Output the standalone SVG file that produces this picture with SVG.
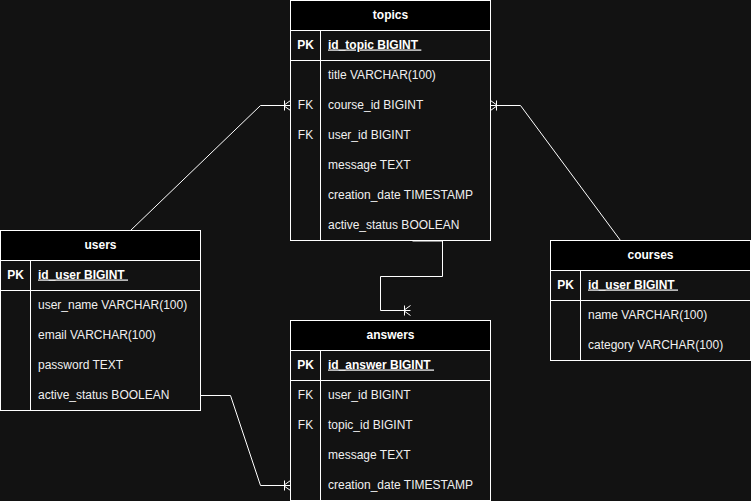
<svg xmlns="http://www.w3.org/2000/svg" width="751" height="501" viewBox="0 0 751 501">
<style>
.tbl{fill:#121212;stroke:#fff;stroke-width:1}
.hdr{fill:#000;stroke:#fff;stroke-width:1}
.ln{stroke:#fff;stroke-width:1;fill:none}
text{font-family:"Liberation Sans",Arial,sans-serif;font-size:12px;fill:#f0f0f0}
.h{font-weight:bold;text-anchor:middle;fill:#fff}
.pk{font-weight:bold;text-anchor:middle;fill:#fff}
.pkf{font-weight:bold;text-decoration:underline;fill:#fff}
.fk{text-anchor:middle}
.conn{stroke:#fff;stroke-width:1;fill:none}
</style>
<rect x="0" y="0" width="751" height="501" fill="#121212"/>

<g id="topics">
<rect class="tbl" x="290.5" y="0.5" width="200" height="240"/>
<rect class="hdr" x="290.5" y="0.5" width="200" height="30"/>
<line class="ln" x1="290.5" y1="60.5" x2="490.5" y2="60.5"/>
<line class="ln" x1="320.5" y1="30.5" x2="320.5" y2="240.5"/>
<text class="h" x="390.5" y="18.5">topics</text>
<text class="pk" x="305.5" y="48.5">PK</text>
<text class="pkf" x="328" y="48.5">id_topic BIGINT&#160;</text>
<text x="328" y="78.5">title VARCHAR(100)</text>
<text class="fk" x="305.5" y="108.5">FK</text>
<text x="328" y="108.5">course_id BIGINT</text>
<text class="fk" x="305.5" y="138.5">FK</text>
<text x="328" y="138.5">user_id BIGINT</text>
<text x="328" y="168.5">message TEXT</text>
<text x="328" y="198.5">creation_date TIMESTAMP</text>
<text x="328" y="228.5">active_status BOOLEAN</text>
</g>

<g id="users">
<rect class="tbl" x="0.5" y="230.5" width="200" height="180"/>
<rect class="hdr" x="0.5" y="230.5" width="200" height="30"/>
<line class="ln" x1="0.5" y1="290.5" x2="200.5" y2="290.5"/>
<line class="ln" x1="30.5" y1="260.5" x2="30.5" y2="410.5"/>
<text class="h" x="100.5" y="248.5">users</text>
<text class="pk" x="15.5" y="278.5">PK</text>
<text class="pkf" x="38" y="278.5">id_user BIGINT&#160;</text>
<text x="38" y="308.5">user_name VARCHAR(100)</text>
<text x="38" y="338.5">email VARCHAR(100)</text>
<text x="38" y="368.5">password TEXT</text>
<text x="38" y="398.5">active_status BOOLEAN</text>
</g>

<g id="answers">
<rect class="tbl" x="290.5" y="320.5" width="200" height="180"/>
<rect class="hdr" x="290.5" y="320.5" width="200" height="30"/>
<line class="ln" x1="290.5" y1="380.5" x2="490.5" y2="380.5"/>
<line class="ln" x1="320.5" y1="350.5" x2="320.5" y2="500.5"/>
<text class="h" x="390.5" y="338.5">answers</text>
<text class="pk" x="305.5" y="368.5">PK</text>
<text class="pkf" x="328" y="368.5">id_answer BIGINT&#160;</text>
<text class="fk" x="305.5" y="398.5">FK</text>
<text x="328" y="398.5">user_id BIGINT</text>
<text class="fk" x="305.5" y="428.5">FK</text>
<text x="328" y="428.5">topic_id BIGINT</text>
<text x="328" y="458.5">message TEXT</text>
<text x="328" y="488.5">creation_date TIMESTAMP</text>
</g>

<g id="courses">
<rect class="tbl" x="550.5" y="240.5" width="200" height="120"/>
<rect class="hdr" x="550.5" y="240.5" width="200" height="30"/>
<line class="ln" x1="550.5" y1="300.5" x2="750.5" y2="300.5"/>
<line class="ln" x1="580.5" y1="270.5" x2="580.5" y2="360.5"/>
<text class="h" x="650.5" y="258.5">courses</text>
<text class="pk" x="565.5" y="288.5">PK</text>
<text class="pkf" x="588" y="288.5">id_user BIGINT&#160;</text>
<text x="588" y="318.5">name VARCHAR(100)</text>
<text x="588" y="348.5">category VARCHAR(100)</text>
</g>

<g id="connectors">
<path class="conn" d="M130.5,230.5 L260.5,105.5 H290.5"/>
<path class="conn" d="M284.5,100.5 V110.5 M283.5,105.5 L290.5,100.5 M283.5,105.5 L290.5,110.5"/>
<path class="conn" d="M620.5,240.5 L520.5,105.5 H490.5"/>
<path class="conn" d="M496.5,100.5 V110.5 M497.5,105.5 L490.5,100.5 M497.5,105.5 L490.5,110.5"/>
<path class="conn" stroke="#bbb" d="M412.5,241 H442.5 V276.5 H380.5 V310.5 H410.5"/>
<path class="conn" d="M404.5,305.5 V315.5 M403.5,310.5 L410.5,305.5 M403.5,310.5 L410.5,315.5"/>
<path class="conn" d="M200.5,395.5 H230.5 L260.5,485.5 H290.5"/>
<path class="conn" d="M284.5,480.5 V490.5 M283.5,485.5 L290.5,480.5 M283.5,485.5 L290.5,490.5"/>
</g>
</svg>
